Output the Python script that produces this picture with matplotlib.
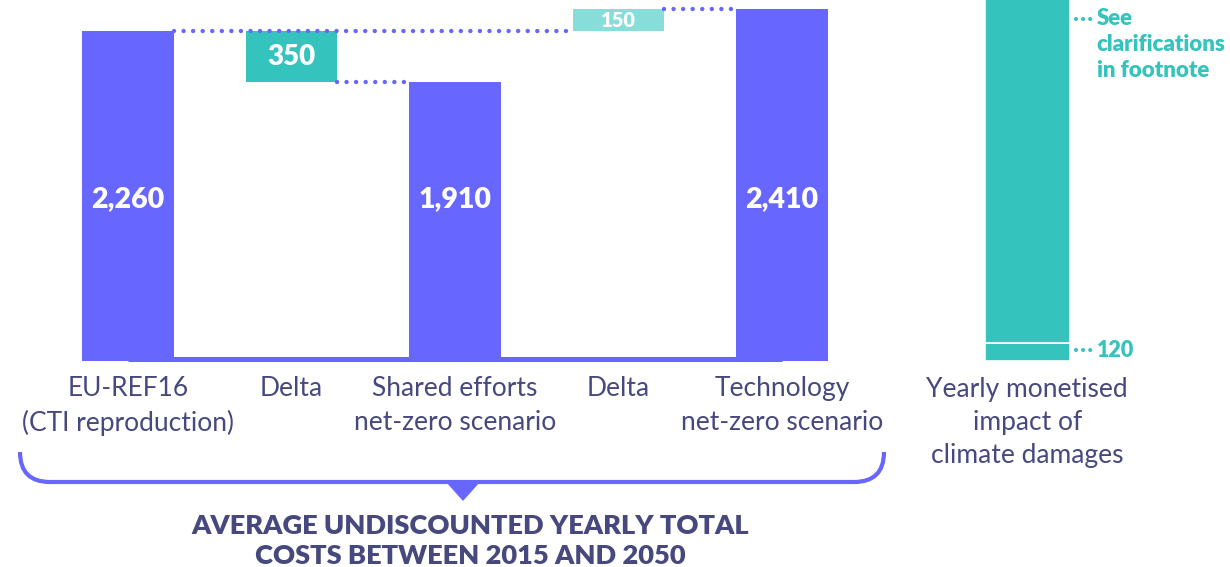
import numpy as np
import matplotlib
matplotlib.use('Agg')
import matplotlib.pyplot as plt
from matplotlib.path import Path
from matplotlib.patches import PathPatch, Polygon
from matplotlib.transforms import offset_copy

# data
categories = ['EU-REF16\n(CTI reproduction)', 'Delta', 'Shared efforts\nnet-zero scenario',
              'Delta', 'Technology\nnet-zero scenario']
totals = [2260, 1910, 2410]
deltas = [-350, 150]
damage_label = 'Yearly monetised\nimpact of\nclimate damages'
damage_known = 120
damage_rest = 2500   # unquantified part, runs off the top
title = 'AVERAGE UNDISCOUNTED YEARLY TOTAL\nCOSTS BETWEEN 2015 AND 2050'

PURPLE = '#6766FF'
TEAL = '#35C3BD'
LTEAL = '#87DDD9'
NAVY = '#46487E'
FONT = 'Lato'

W, H = 1230, 567
fig = plt.figure(figsize=(W/100, H/100), dpi=100)
ax = fig.add_axes([0, 0, 1, 1])
ax.set_xlim(-128/163.5, (W-128)/163.5)
ax.set_ylim((361-H)/0.146, 361/0.146)
ax.axis('off')

bw = 0.557
xs = np.array([0, 2, 4])
ax.bar(xs, totals, width=bw, color=PURPLE, zorder=2)
# deltas as floating boxes
d1_bot = totals[0] + deltas[0]
ax.bar(1, -deltas[0], bottom=d1_bot, width=bw, color=TEAL, zorder=2)
ax.bar(3, deltas[1], bottom=totals[0], width=bw, color=LTEAL, zorder=2)

# baseline band joining the bars
base_tr = offset_copy(ax.transData, fig=fig, y=2.5, units='dots')
ax.plot([0, 4], [0, 0], color=PURPLE, lw=3.6, solid_capstyle='butt', transform=base_tr, zorder=1)

# dotted connectors
dots = dict(color=PURPLE, lw=3.2, ls=(0, (0.001, 2.15)), dash_capstyle='round', zorder=4)
ax.plot([bw/2, 3 - bw/2], [totals[0], totals[0]], **dots)
ax.plot([1 + bw/2, 2 - bw/2], [d1_bot, d1_bot], **dots)
ax.plot([3 + bw/2, 4 - bw/2], [totals[2], totals[2]], **dots)

# value labels
for x, v in zip(xs, totals):
    ax.text(x, 1110, f'{v:,}', color='white', fontsize=20.5, fontweight='heavy',
            family=FONT, ha='center', va='center', zorder=5)
ax.text(1, d1_bot - deltas[0]/2, f'{-deltas[0]}', color='white', fontsize=20,
        fontweight='heavy', family=FONT, ha='center', va='center', zorder=5)
ax.text(3, totals[0] + deltas[1]/2, f'{deltas[1]}', color='white', fontsize=14.5,
        fontweight='heavy', family=FONT, ha='center', va='center', zorder=5)

# category labels
for i, lab in enumerate(categories):
    ax.text(i, -100, lab, color=NAVY, fontsize=19, family=FONT, ha='center', va='top',
            linespacing=1.45)

# climate damages bar
dx = 5.5
dw = 0.52
ax.bar(dx, damage_known, width=dw, color=TEAL, edgecolor='white', linewidth=1.2, zorder=2)
ax.bar(dx, damage_rest, bottom=damage_known, width=dw, color=TEAL, edgecolor='white',
       linewidth=1.2, zorder=2)
ax.text(dx, -110, damage_label, color=NAVY, fontsize=19, family=FONT, ha='center',
        va='top', linespacing=1.4)

tdots = dict(color=TEAL, lw=3.0, ls=(0, (0.001, 1.7)), dash_capstyle='round', zorder=4)
x0, x1, xt = dx + dw/2 + 0.04, dx + dw/2 + 0.15, dx + dw/2 + 0.165
ax.plot([x0, x1], [damage_known/2 + 15]*2, **tdots)
ax.text(xt, damage_known/2 + 15, f'{damage_known}', color=TEAL, fontsize=15.5,
        fontweight='heavy', family=FONT, ha='left', va='center')
ax.plot([x0, x1], [2345]*2, **tdots)
ax.text(xt, 2345, 'See\nclarifications\nin footnote', color=TEAL,
        fontsize=16, fontweight='heavy', family=FONT, ha='left', va='top',
        linespacing=1.3, transform=offset_copy(ax.transData, fig=fig, y=11, units='dots'))

# brace + title in pixel overlay
ov = fig.add_axes([0, 0, 1, 1], facecolor='none')
ov.set_xlim(0, W)
ov.set_ylim(H, 0)
ov.axis('off')
r = 30
xl, xr, yt, yb = 20, 884, 452, 482
verts = [(xl, yt), (xl, yb - r), (xl, yb), (xl + r, yb), (xr - r, yb), (xr, yb), (xr, yb - r), (xr, yt)]
codes = [Path.MOVETO, Path.LINETO, Path.CURVE3, Path.CURVE3, Path.LINETO, Path.CURVE3, Path.CURVE3, Path.LINETO]
ov.add_patch(PathPatch(Path(verts, codes), fill=False, edgecolor=PURPLE, lw=3.0, capstyle='butt'))
cx = 463
ov.add_patch(Polygon([(cx - 17, yb), (cx + 17, yb), (cx, yb + 19)], closed=True, color=PURPLE, lw=0))
ov.text(cx + 7, 541, title, color=NAVY, fontsize=19.6, fontweight='heavy', family=FONT,
        ha='center', va='center', linespacing=1.35)

fig.savefig('out.png', dpi=100)
